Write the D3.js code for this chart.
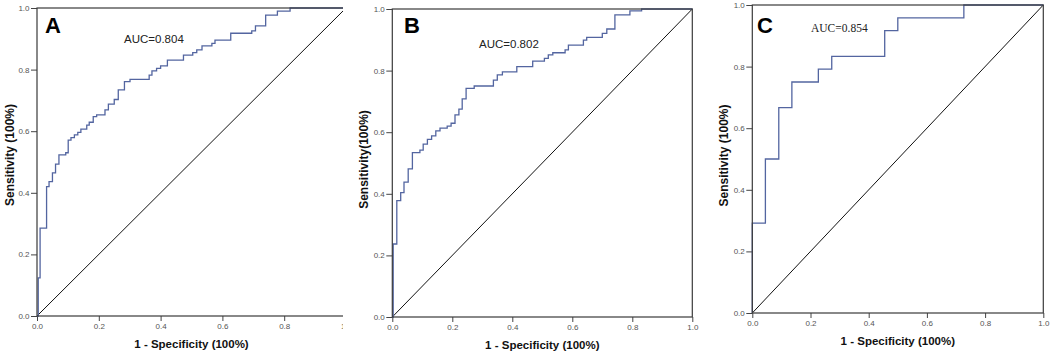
<!DOCTYPE html>
<html>
<head>
<meta charset="utf-8">
<script src="https://cdn.jsdelivr.net/npm/d3@7"></script>
<style>
  body { margin: 0; background: #fff; }
  svg { display: block; }
  .tick text { font-family: Arial, "Liberation Sans", sans-serif; font-size: 8px; fill: #555; }
  .tick line { stroke: #444; }
</style>
</head>
<body>
<svg id="roc" width="1053" height="357"></svg>
<script>

// ROC step points: 1 - specificity / sensitivity
const fprA = [0, 0.004, 0.010, 0.031, 0.039, 0.050, 0.060, 0.071, 0.093, 0.101, 0.110, 0.121, 0.132, 0.142, 0.161, 0.169, 0.182, 0.193, 0.220, 0.231, 0.250, 0.263, 0.283, 0.301, 0.363, 0.372, 0.387, 0.400, 0.422, 0.474, 0.504, 0.517, 0.534, 0.566, 0.576, 0.627, 0.695, 0.707, 0.740, 0.778, 0.819, 1];
const tprA = [0, 0.124, 0.285, 0.420, 0.436, 0.465, 0.493, 0.523, 0.530, 0.571, 0.579, 0.588, 0.596, 0.607, 0.620, 0.629, 0.647, 0.653, 0.669, 0.688, 0.703, 0.734, 0.761, 0.768, 0.782, 0.796, 0.804, 0.812, 0.831, 0.847, 0.855, 0.864, 0.877, 0.885, 0.896, 0.918, 0.926, 0.942, 0.977, 0.990, 1.0, 1];

const fprB = [0, 0.003, 0.015, 0.028, 0.039, 0.053, 0.067, 0.092, 0.103, 0.117, 0.131, 0.145, 0.159, 0.183, 0.196, 0.209, 0.222, 0.233, 0.246, 0.273, 0.337, 0.350, 0.367, 0.415, 0.468, 0.507, 0.520, 0.535, 0.576, 0.587, 0.637, 0.648, 0.700, 0.715, 0.742, 0.792, 0.831, 1];
const tprB = [0, 0.237, 0.378, 0.404, 0.438, 0.481, 0.534, 0.542, 0.561, 0.577, 0.588, 0.604, 0.613, 0.620, 0.629, 0.656, 0.675, 0.708, 0.742, 0.750, 0.769, 0.786, 0.796, 0.813, 0.831, 0.840, 0.851, 0.858, 0.867, 0.883, 0.899, 0.908, 0.921, 0.935, 0.981, 0.994, 1.0, 1];

const fprC = [0, 0, 0.045, 0.091, 0.136, 0.227, 0.273, 0.455, 0.500, 0.727, 1];
const tprC = [0, 0.292, 0.500, 0.667, 0.750, 0.792, 0.833, 0.917, 0.958, 1.0, 1];

const axisTicks = [0, 0.2, 0.4, 0.6, 0.8, 1.0];
const panelLetters = ["A", "B", "C"];
const aucLabels = ["AUC=0.804", "AUC=0.802", "AUC=0.854"];
const yTitles = ["Sensitivity (100%)", "Sensitivity(100%)", "Sensitivity (100%)"];
const xTitle = "1 - Specificity (100%)";


const rocFigure = function(){

    const svg = d3.select('#roc');
    const sans = 'Arial, "Liberation Sans", sans-serif';

    // pixel frame of each panel
    const panels = [
        {fpr: fprA, tpr: tprA, left: 37, right: 346, top: 8, bottom: 316, clip: 343,
         yTitleX: 9.5, yTitleY: 155, xTitleY: 347.5, letterX: 45, aucX: 124, aucY: 43.3, aucFont: sans},
        {fpr: fprB, tpr: tprB, left: 392.3, right: 692.3, top: 9, bottom: 317, clip: null,
         yTitleX: 363.5, yTitleY: 159.5, xTitleY: 348.5, letterX: 404, aucX: 479, aucY: 48.3, aucFont: sans},
        {fpr: fprC, tpr: tprC, left: 752.3, right: 1043.3, top: 5, bottom: 313, clip: null,
         yTitleX: 724, yTitleY: 155.5, xTitleY: 344.5, letterX: 757, aucX: 811, aucY: 32, aucFont: '"Liberation Serif", "Times New Roman", serif'}
    ];

    const renderPanel = function(p, i){

        let g = svg.append("g");

        if(p.clip){
            svg.append("clipPath")
                .attr("id", "clip" + i)
                .append("rect")
                .attr("x", 0).attr("y", 0)
                .attr("width", p.clip).attr("height", 357);
            g.attr("clip-path", `url(#clip${i})`);
        }

        let xScale = d3.scaleLinear().domain([0, 1]).range([p.left, p.right]),
            yScale = d3.scaleLinear().domain([0, 1]).range([p.bottom, p.top]);

        let xAxis = d3.axisBottom(xScale)
                        .tickValues(axisTicks)
                        .tickFormat(d3.format(".1f"))
                        .tickSize(5)
                        .tickPadding(2);

        let yAxis = d3.axisLeft(yScale)
                        .tickValues(axisTicks)
                        .tickFormat(d3.format(".1f"))
                        .tickSize(6)
                        .tickPadding(1.5);

        g.append("g")
            .attr("transform", `translate(0,${p.bottom})`)
            .call(xAxis)
            .call(a => a.select(".domain").remove());

        g.append("g")
            .attr("transform", `translate(${p.left},0)`)
            .call(yAxis)
            .call(a => a.select(".domain").remove());

        // reference diagonal
        g.append("line")
            .attr("x1", xScale(0)).attr("y1", yScale(0))
            .attr("x2", xScale(1)).attr("y2", yScale(1))
            .attr("stroke", "#111")
            .attr("stroke-width", 1);

        let points = p.fpr.map((f, k) => [f, p.tpr[k]]);
        let line = d3.line()
                    .x(d => xScale(d[0]))
                    .y(d => yScale(d[1]))
                    .curve(d3.curveStepAfter);

        g.append("path")
            .datum(points)
            .attr("fill", "none")
            .attr("stroke", "#5365a0")
            .attr("stroke-width", 1.3)
            .attr("d", line);

        // frame
        g.append("rect")
            .attr("x", xScale(0)).attr("y", yScale(1))
            .attr("width", xScale(1) - xScale(0))
            .attr("height", yScale(0) - yScale(1))
            .attr("fill", "none")
            .attr("stroke", "#3a3a3a")
            .attr("stroke-width", 1.2);

        svg.append("text")
            .attr("x", p.letterX).attr("y", 33)
            .attr("font-family", sans)
            .attr("font-weight", "bold")
            .attr("font-size", 22)
            .attr("fill", "#000")
            .text(panelLetters[i]);

        svg.append("text")
            .attr("x", p.aucX).attr("y", p.aucY)
            .attr("font-family", p.aucFont)
            .attr("font-size", 11.5)
            .attr("fill", "#222")
            .text(aucLabels[i]);

        svg.append("text")
            .attr("transform", `translate(${p.yTitleX},${p.yTitleY}) rotate(-90)`)
            .attr("text-anchor", "middle")
            .attr("dominant-baseline", "central")
            .attr("font-family", sans)
            .attr("font-weight", "bold")
            .attr("font-size", 12)
            .attr("fill", "#111")
            .text(yTitles[i]);

        svg.append("text")
            .attr("x", (p.left + Math.min(p.right, p.clip || p.right) + (p.clip ? 3 : 0)) / 2)
            .attr("y", p.xTitleY)
            .attr("text-anchor", "middle")
            .attr("font-family", sans)
            .attr("font-weight", "bold")
            .attr("font-size", 11.5)
            .attr("fill", "#111")
            .text(xTitle);
    };

    panels.forEach(renderPanel);

}();

</script>
</body>
</html>
